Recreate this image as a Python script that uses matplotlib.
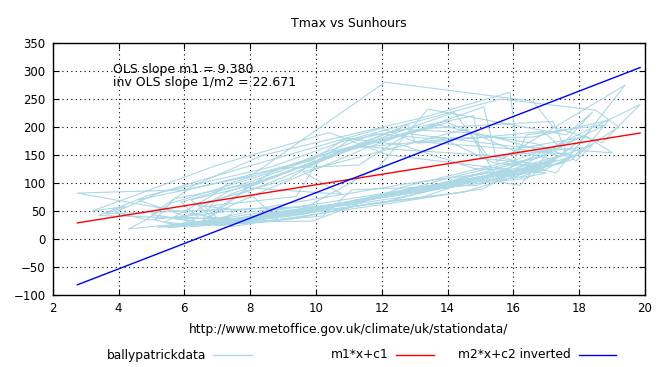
import matplotlib.pyplot as plt
from matplotlib.lines import Line2D
import numpy as np

# monthly Tmax (degC) and sunshine hours, one row per year
tmax = [
    6.4, 5.9, 8.1, 10.6, 13.7, 15.8, 17.4, 17.1, 15.2, 12.4, 9.0, 6.7,
    5.7, 7.0, 8.8, 11.3, 12.8, 16.3, 18.2, 16.9, 14.5, 11.6, 9.3, 7.1,
    7.2, 6.6, 9.4, 10.1, 14.2, 15.2, 16.8, 17.6, 15.8, 12.9, 8.4, 4.9,
    3.9, 5.2, 7.6, 12.0, 13.1, 16.9, 17.9, 18.4, 14.9, 11.1, 10.2, 6.2,
    6.9, 7.5, 8.5, 11.6, 15.1, 15.5, 19.4, 17.3, 16.2, 13.2, 9.8, 7.6,
    2.75, 6.1, 9.9, 10.9, 12.6, 14.8, 17.0, 16.5, 14.2, 12.1, 8.7, 5.5,
    6.3, 4.6, 8.0, 12.1, 16.6, 17.2, 18.7, 19.85, 15.5, 11.9, 9.1, 6.0,
    5.4, 6.8, 7.3, 10.2, 13.5, 17.2, 17.6, 17.0, 15.6, 12.6, 9.6, 6.9,
    7.6, 6.4, 9.2, 11.0, 14.8, 15.0, 17.1, 16.7, 14.8, 11.8, 8.1, 4.3,
    4.8, 5.6, 8.7, 11.8, 13.3, 16.6, 18.9, 18.0, 16.4, 13.5, 10.4, 7.8,
    6.0, 7.3, 10.4, 10.7, 14.0, 16.0, 17.3, 16.4, 15.0, 12.2, 9.0, 7.0,
    6.7, 6.2, 7.9, 11.4, 12.4, 15.6, 18.1, 17.8, 15.9, 12.8, 8.6, 5.9,
    5.1, 5.7, 8.3, 12.5, 14.6, 16.7, 17.7, 17.4, 14.7, 11.4, 9.7, 6.4,
    7.0, 7.7, 9.0, 11.1, 13.9, 15.4, 16.9, 16.2, 15.3, 13.0, 10.0, 8.1,
    3.4, 4.9, 8.6, 10.8, 15.6, 18.5, 19.2, 17.5, 14.4, 12.0, 9.2, 6.6,
    6.6, 6.9, 9.6, 12.8, 13.0, 16.2, 17.8, 16.9, 15.7, 12.5, 8.8, 5.2,
    8.9, 7.8, 10.8, 9.6, 14.4, 14.6, 15.6, 16.2, 17.0, 14.1, 11.0, 3.6,
    4.2, 3.2, 7.0, 10.4, 12.2, 15.9, 16.4, 18.8, 16.8, 13.7, 10.6, 8.4,
    6.1, 7.9, 9.8, 11.9, 13.4, 17.6, 18.4, 17.6, 15.1, 12.3, 8.3, 7.4,
    5.0, 6.3, 8.4, 13.2, 15.9, 16.1, 19.0, 18.2, 16.0, 12.7, 9.9, 6.3,
]
sun = [
    40, 66, 104, 158, 204, 176, 148, 139, 110, 77, 50, 29,
    36, 54, 126, 132, 188, 163, 183, 127, 84, 63, 36, 25,
    28, 58, 76, 142, 226, 150, 131, 152, 122, 100, 56, 34,
    48, 82, 124, 198, 171, 192, 139, 168, 96, 88, 41, 22,
    44, 62, 88, 164, 236, 138, 275, 118, 134, 74, 48, 31,
    82, 88, 141, 180, 168, 126, 118, 112, 98, 66, 38, 20,
    35, 70, 112, 280, 246, 200, 172, 240, 116, 80, 54, 27,
    30, 76, 98, 150, 198, 210, 158, 131, 118, 86, 44, 24,
    52, 60, 108, 176, 220, 144, 132, 124, 108, 72, 40, 18,
    33, 64, 120, 188, 180, 182, 212, 150, 126, 90, 58, 36,
    38, 84, 146, 154, 208, 158, 141, 108, 100, 76, 47, 28,
    46, 70, 94, 166, 160, 148, 164, 142, 112, 82, 42, 23,
    34, 72, 102, 196, 190, 170, 146, 134, 106, 70, 50, 26,
    50, 80, 110, 162, 178, 136, 128, 110, 120, 88, 52, 34,
    42, 78, 128, 174, 250, 230, 200, 136, 102, 79, 46, 25,
    40, 68, 130, 204, 174, 160, 150, 122, 114, 74, 43, 21,
    32, 92, 80, 120, 194, 196, 102, 96, 150, 110, 60, 45,
    58, 50, 132, 190, 150, 124, 186, 204, 146, 98, 62, 40,
    26, 48, 60, 128, 232, 186, 226, 176, 90, 64, 30, 22,
    44, 96, 150, 216, 262, 166, 154, 184, 140, 94, 32, 30,
]

m1 = 9.380      # OLS slope
c1 = 3.0
m2 = 22.671     # inverted OLS slope 1/m2
c2 = -144.0

fig = plt.figure(figsize=(6.7, 3.67), dpi=100)
ax = fig.add_axes([0.0787, 0.196, 0.884, 0.687])

ax.plot(tmax, sun, color='#add8e6', lw=0.8)
xs = np.sort(np.array(tmax))
ax.plot(xs, m1 * xs + c1, color='red', lw=1.0)
ax.plot(xs, m2 * xs + c2, color='blue', lw=1.0)

ax.set_xlim(2, 20)
ax.set_ylim(-100, 350)
ax.set_xticks(range(2, 21, 2))
ax.set_yticks(range(-100, 351, 50))
ax.grid(True, color='black', linestyle=(0, (1, 3)), lw=0.8)
ax.tick_params(direction='in', top=True, right=True, length=4, labelsize=8.5, pad=5)
for s in ax.spines.values():
    s.set_linewidth(1.0)

ax.text(3.82, 302, 'OLS slope m1 = %.3f' % m1, fontsize=9, va='center')
ax.text(3.82, 279, 'inv OLS slope 1/m2 = %.3f' % m2, fontsize=9, va='center')

fig.text(0.521, 0.937, 'Tmax vs Sunhours', ha='center', va='center', fontsize=9)
ax.set_xlabel('http://www.metoffice.gov.uk/climate/uk/stationdata/', fontsize=8.8, labelpad=6)

# gnuplot style key below the plot: text then line sample
H = 367.0
W = 670.0
ky = 1 - 355 / H
key = [('ballypatrickdata', '#add8e6', 206, 213, 252),
       ('m1*x+c1', 'red', 389, 396, 434),
       ('m2*x+c2 inverted', 'blue', 571, 579, 616)]
for label, col, tx, l0, l1 in key:
    fig.text(tx / W, ky, label, ha='right', va='center', fontsize=8.8)
    fig.add_artist(Line2D([l0 / W, l1 / W], [ky, ky], color=col, lw=1.0,
                          transform=fig.transFigure))

fig.savefig('out.png', dpi=100)
